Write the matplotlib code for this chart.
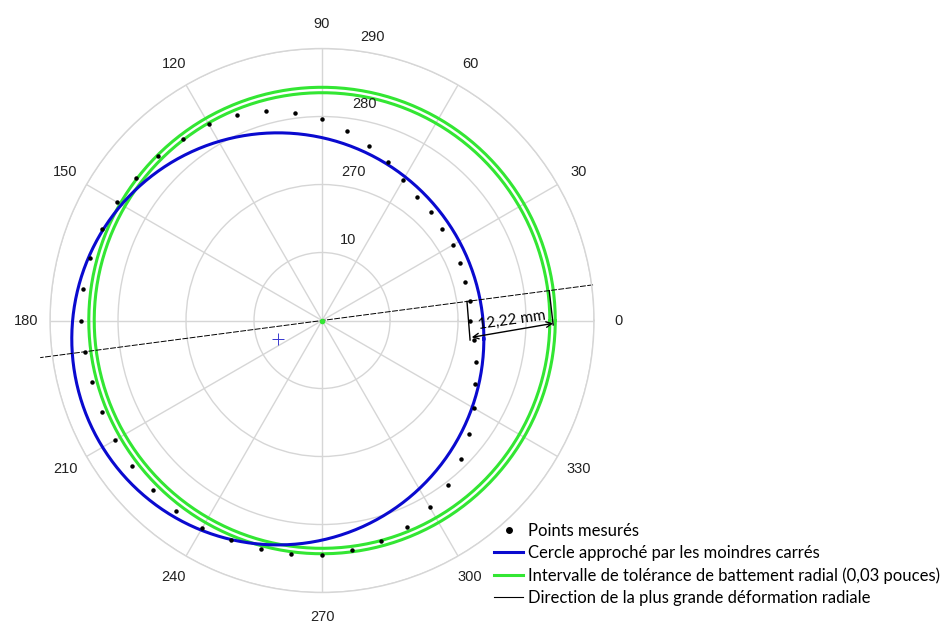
import numpy as np
import matplotlib
matplotlib.use('Agg')
import matplotlib.pyplot as plt
from matplotlib.lines import Line2D

plt.rcParams['font.family'] = ['Liberation Sans', 'DejaVu Sans']

# Points mesurés : angle (degrés) et rayon (échelle de l'axe)
angles_deg = [0, 7.5, 15, 22.5, 30, 37.5, 45, 52.5,
              60, 67.5, 75, 82.5, 90, 97.5, 105, 112.5,
              120, 127.5, 135, 142.5, 150, 157.5, 165, 172.5,
              180, 187.5, 195, 202.5, 210, 217.5, 225, 232.5,
              240, 247.5, 255, 262.5, 270, 277.5, 285, 292.5,
              300, 307.5, 315, 322.5, 330, 337.5, 345, 352.5]
rayons = [271.8, 271.9, 271.8, 272.0, 272.3, 272.2, 272.6, 272.9,
          273.9, 275.3, 276.6, 278.1, 279.6, 280.8, 281.9, 282.7,
          283.3, 283.7, 284.2, 284.4, 284.8, 285.1, 285.4, 285.5,
          285.5, 285.2, 285.0, 285.1, 285.2, 285.2, 285.2, 285.3,
          285.2, 285.0, 284.8, 284.7, 284.5, 284.0, 283.5, 282.8,
          281.7, 280.4, 278.9, 277.3, 275.8, 274.4, 273.4, 272.5]

# axe radial
r_centre = 250
r_max = 290
r_ticks = [260, 270, 280, 290]
r_labels = ['10', '270', '280', '290']
r_label_angles = [72, 78, 79, 80]
theta_ticks = [0, 30, 60, 90, 120, 150, 180, 210, 240, 270, 300, 330]

# cercle des moindres carrés (décalage du centre, rayon)
cercle_cx = -6.5
cercle_cy = -2.7
cercle_r = 30.3

# intervalle de tolérance (deux cercles concentriques)
tolerance = [283.5, 284.3]

# direction de la plus grande déformation
direction = 7.5
dir_r = [290.2, 291.8]
cote_txt = '12,22 mm'

legende = ['Points mesurés',
           'Cercle approché par les moindres carrés',
           'Intervalle de tolérance de battement radial (0,03 pouces)',
           'Direction de la plus grande déformation radiale']

fig = plt.figure(figsize=(9.42, 6.35), dpi=100)
ax = fig.add_axes([0.0531, 0.0669, 0.5775, 0.8567], projection='polar')
ax.set_rlim(r_centre, r_max)
ax.set_rticks(r_ticks)
ax.set_yticklabels([])
ax.set_thetagrids(theta_ticks, [str(t) for t in theta_ticks])
ax.tick_params(axis='x', pad=7, labelsize=10.5, labelcolor='#222222')
ax.grid(color='#d6d6d6', lw=1)
ax.spines['polar'].set_color('#d6d6d6')
ax.spines['polar'].set_linewidth(1)

for r, lab, a in zip(r_ticks, r_labels, r_label_angles):
    ax.text(np.deg2rad(a), r + 2.4, lab, ha='center', va='center',
            fontsize=10.5, color='#222222')

t = np.linspace(0, 2 * np.pi, 500)

# tolérance
h_tol = None
for rt in tolerance:
    h_tol, = ax.plot(t, np.full_like(t, rt), color='#33e633', lw=2.2)

# cercle approché
x = cercle_cx + cercle_r * np.cos(t)
y = cercle_cy + cercle_r * np.sin(t)
h_cercle, = ax.plot(np.arctan2(y, x), r_centre + np.hypot(x, y),
                    color='#0a0acf', lw=2.2)
ax.plot(np.arctan2(cercle_cy, cercle_cx), r_centre + np.hypot(cercle_cx, cercle_cy),
        marker='+', color='#3a3ad0', ms=9, mew=0.7)

# points
h_pts, = ax.plot(np.deg2rad(angles_deg), rayons, 'o', color='black', ms=2.2,
                 ls='none')

# direction
d = np.deg2rad(direction)
ax.plot([d, d, d + np.pi], [dir_r[0], r_centre, dir_r[1]],
        color='black', lw=0.7, ls=(0, (6, 1.5)), clip_on=False)
ax.plot(0, r_centre, 'o', color='#33e633', ms=3)
h_dir = Line2D([], [], color='black', lw=0.8)

# cote 12,22 mm
ax.plot(np.deg2rad([7.5, -7.5]), [271.5, 271.96], color='black', lw=1)
ax.plot(np.deg2rad([7.47, -1.1]), [283.7, 284.0], color='black', lw=1)
ax.annotate('', xy=(np.deg2rad(-6.4), 272.15), xytext=(np.deg2rad(-0.7), 284.0),
            arrowprops=dict(arrowstyle='<->', lw=1, color='black',
                            shrinkA=0, shrinkB=0))
ax.text(np.deg2rad(0.2), 277.9, cote_txt, rotation=8, ha='center', va='center',
        fontsize=11, family=['Lato', 'DejaVu Sans'])

fig.legend([h_pts, h_cercle, h_tol, h_dir], legende, loc='upper left',
           bbox_to_anchor=(494 / 942, 1 - 523 / 635), frameon=False,
           prop={'family': ['Lato', 'DejaVu Sans'], 'size': 12},
           handlelength=1.75, handletextpad=0.3, labelspacing=0.36,
           borderpad=0, borderaxespad=0, markerscale=1.8)

fig.savefig('out.png', dpi=100)
